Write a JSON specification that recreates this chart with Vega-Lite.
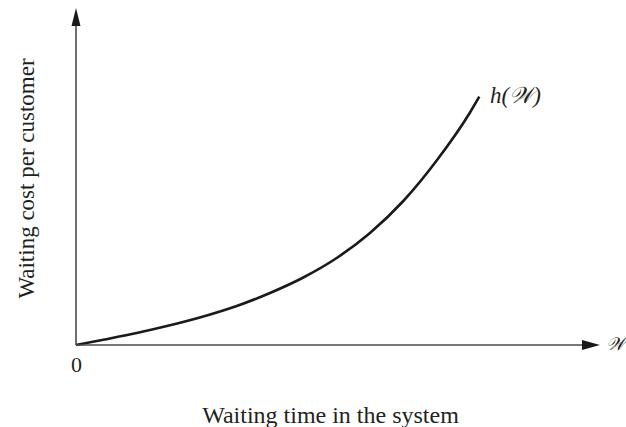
{
  "$schema": "https://vega.github.io/schema/vega-lite/v6.json",
  "autosize": "none",
  "width": 524,
  "height": 337,
  "padding": {"left": 76, "top": 8, "right": 26, "bottom": 82},
  "background": "white",
  "config": {"view": {"stroke": null}, "font": "Liberation Serif"},
  "datasets": {
    "curve": [
      {"w": 0, "h": 0}, {"w": 27.3, "h": 5.3}, {"w": 60.7, "h": 12}, {"w": 94, "h": 19.7},
      {"w": 127.3, "h": 28.5}, {"w": 160.7, "h": 39}, {"w": 194, "h": 52}, {"w": 227.3, "h": 67.5},
      {"w": 260.7, "h": 87}, {"w": 294, "h": 112}, {"w": 327.3, "h": 144}, {"w": 360.7, "h": 184.5},
      {"w": 394, "h": 232.5}, {"w": 403.3, "h": 248.3}
    ],
    "axes": [
      {"w": 0, "h": 0, "w2": 0, "h2": 325},
      {"w": 0, "h": 0, "w2": 512, "h2": 0}
    ],
    "arrows": [
      {"w": 0, "h": 328, "dir": "up"},
      {"w": 515, "h": 0, "dir": "right"}
    ],
    "labels": [
      {"w": 414, "h": 242, "label": "h(𝒲)", "kind": "curve"},
      {"w": 530, "h": -5, "label": "𝒲", "kind": "axis"},
      {"w": 0.5, "h": -27, "label": "0", "kind": "origin"}
    ]
  },
  "layer": [
    {
      "data": {"name": "curve"},
      "mark": {"type": "line", "interpolate": "monotone", "color": "#1a1a1a", "strokeWidth": 2.6},
      "encoding": {
        "x": {"field": "w", "type": "quantitative", "scale": {"domain": [0, 524], "nice": false, "zero": false},
          "axis": {"title": "Waiting time in the system", "domain": false, "ticks": false, "labels": false, "grid": false,
            "titleFont": "Liberation Serif", "titleFontSize": 24, "titleFontWeight": "normal", "titleColor": "#231f20",
            "titleX": 254, "titleY": 77, "titleBaseline": "alphabetic", "titleAlign": "center"}},
        "y": {"field": "h", "type": "quantitative", "scale": {"domain": [0, 337], "nice": false, "zero": false},
          "axis": {"title": "Waiting cost per customer", "domain": false, "ticks": false, "labels": false, "grid": false,
            "titleFont": "Liberation Serif", "titleFontSize": 23, "titleFontWeight": "normal", "titleColor": "#231f20",
            "titleX": -43, "titleY": 170, "titleAngle": -90, "titleBaseline": "alphabetic", "titleAlign": "center"}}
      }
    },
    {
      "data": {"name": "axes"},
      "mark": {"type": "rule", "color": "#4a4a4a", "strokeWidth": 1.6},
      "encoding": {
        "x": {"field": "w", "type": "quantitative"},
        "y": {"field": "h", "type": "quantitative"},
        "x2": {"field": "w2"},
        "y2": {"field": "h2"}
      }
    },
    {
      "data": {"name": "arrows"},
      "transform": [{"filter": "datum.dir === 'up'"}],
      "mark": {"type": "point", "filled": true, "color": "#1a1a1a", "opacity": 1, "size": 324, "shape": "M0,-1L0.5,1L-0.5,1Z"},
      "encoding": {
        "x": {"field": "w", "type": "quantitative"},
        "y": {"field": "h", "type": "quantitative"}
      }
    },
    {
      "data": {"name": "arrows"},
      "transform": [{"filter": "datum.dir === 'right'"}],
      "mark": {"type": "point", "filled": true, "color": "#1a1a1a", "opacity": 1, "size": 324, "shape": "M1,0L-1,0.55L-1,-0.55Z"},
      "encoding": {
        "x": {"field": "w", "type": "quantitative"},
        "y": {"field": "h", "type": "quantitative"}
      }
    },
    {
      "data": {"name": "labels"},
      "transform": [{"filter": "datum.kind === 'curve'"}],
      "mark": {"type": "text", "align": "left", "baseline": "alphabetic", "font": "Liberation Serif", "fontStyle": "italic", "fontSize": 23, "color": "#231f20"},
      "encoding": {
        "x": {"field": "w", "type": "quantitative"},
        "y": {"field": "h", "type": "quantitative"},
        "text": {"field": "label"}
      }
    },
    {
      "data": {"name": "labels"},
      "transform": [{"filter": "datum.kind === 'axis'"}],
      "mark": {"type": "text", "align": "left", "baseline": "alphabetic", "font": "Liberation Serif", "fontStyle": "italic", "fontSize": 18, "color": "#231f20"},
      "encoding": {
        "x": {"field": "w", "type": "quantitative"},
        "y": {"field": "h", "type": "quantitative"},
        "text": {"field": "label"}
      }
    },
    {
      "data": {"name": "labels"},
      "transform": [{"filter": "datum.kind === 'origin'"}],
      "mark": {"type": "text", "align": "center", "baseline": "alphabetic", "font": "Liberation Serif", "fontSize": 22, "color": "#231f20"},
      "encoding": {
        "x": {"field": "w", "type": "quantitative"},
        "y": {"field": "h", "type": "quantitative"},
        "text": {"field": "label"}
      }
    }
  ]
}
